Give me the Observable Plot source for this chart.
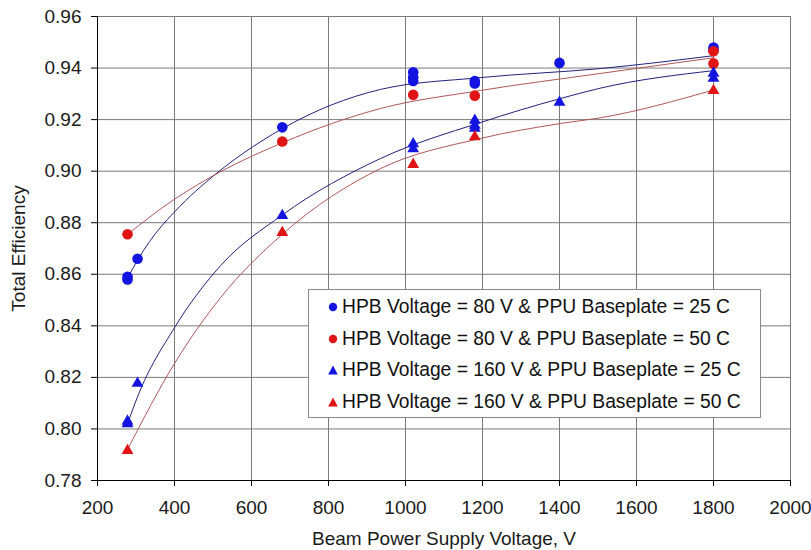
<!DOCTYPE html>
<html>
<head>
<meta charset="utf-8">
<script src="https://cdn.jsdelivr.net/npm/d3@7"></script>
<script src="https://cdn.jsdelivr.net/npm/@observablehq/plot@0.6"></script>
<style>
  body { margin: 0; background: white; }
  #wrap { position: relative; width: 811px; height: 550px; font-family: "Liberation Sans", Arial, sans-serif; }
  #legend { position: absolute; left: 308px; top: 289px; width: 451px; height: 127px; border: 1px solid #8a8a8a; background: white; box-sizing: content-box; }
  .item { position: absolute; left: 0; height: 32px; display: flex; align-items: center; font-size: 19.3px; color: #111; white-space: nowrap; }
  .item svg { margin-left: 19px; margin-right: 4px; }
</style>
</head>
<body>
<div id="wrap"></div>
<script>
// ---- data ----
const xTicks = [200, 400, 600, 800, 1000, 1200, 1400, 1600, 1800, 2000];
const yTicks = [0.78, 0.80, 0.82, 0.84, 0.86, 0.88, 0.90, 0.92, 0.94, 0.96];

const seriesNames = [
  "HPB Voltage = 80 V & PPU Baseplate = 25 C",
  "HPB Voltage = 80 V & PPU Baseplate = 50 C",
  "HPB Voltage = 160 V & PPU Baseplate = 25 C",
  "HPB Voltage = 160 V & PPU Baseplate = 50 C"
];
const seriesColors = ["#1414e0", "#e01414", "#1414e0", "#e01414"];
const trendColors = ["#22227a", "#b05858", "#22227a", "#b05858"];
const seriesSymbols = ["circle", "circle", "triangle", "triangle"];

// measured points: [beam voltage, efficiency]
const hpb80_25C = [[278, 0.858], [278, 0.859], [304, 0.866], [680, 0.917], [1020, 0.9384], [1020, 0.9364], [1020, 0.935], [1180, 0.935], [1180, 0.934], [1400, 0.942], [1800, 0.948], [1800, 0.947]];
const hpb80_50C = [[278, 0.8755], [680, 0.9115], [1020, 0.9296], [1180, 0.9293], [1800, 0.9465], [1800, 0.9418]];
const hpb160_25C = [[278, 0.802], [278, 0.803], [304, 0.8177], [680, 0.8828], [1020, 0.9106], [1020, 0.9087], [1180, 0.9197], [1180, 0.9178], [1180, 0.9166], [1400, 0.9267], [1800, 0.938], [1800, 0.936]];
const hpb160_50C = [[278, 0.7916], [680, 0.8762], [1020, 0.9026], [1180, 0.9133], [1800, 0.9313]];

// trend curves: [beam voltage, efficiency]
const trend80_25C = [[278, 0.8585], [304, 0.8655], [429, 0.8886], [480, 0.8955], [680, 0.9165], [935, 0.9317], [1195, 0.9363], [1506, 0.9398], [1800, 0.9448]];
const trend80_50C = [[278, 0.8755], [395, 0.8886], [480, 0.8965], [680, 0.911], [935, 0.9243], [1195, 0.9313], [1506, 0.9379], [1800, 0.944]];
const trend160_25C = [[278, 0.802], [304, 0.8125], [400, 0.8393], [520, 0.8634], [680, 0.883], [935, 0.9049], [1195, 0.9189], [1403, 0.9282], [1506, 0.9322], [1800, 0.939]];
const trend160_50C = [[278, 0.792], [400, 0.8254], [520, 0.851], [680, 0.8755], [935, 0.901], [1195, 0.9127], [1403, 0.9185], [1506, 0.9207], [1800, 0.9315]];

const pointSets = [hpb80_25C, hpb80_50C, hpb160_25C, hpb160_50C];
const trendSets = [trend80_25C, trend80_50C, trend160_25C, trend160_50C];

const points = pointSets.flatMap((arr, i) => arr.map(([x, y]) => ({x, y, s: i})));
const trends = trendSets.flatMap((arr, i) => arr.map(([x, y]) => ({x, y, s: i})));

const chart = Plot.plot({
  width: 811,
  height: 550,
  marginLeft: 97,
  marginRight: 21,
  marginTop: 16,
  marginBottom: 70,
  style: { fontFamily: "'Liberation Sans', Arial, sans-serif", fontSize: "19px", color: "#1a1a1a", background: "white", overflow: "visible" },
  x: { domain: [200, 2000] },
  y: { domain: [0.78, 0.96] },
  marks: [
    Plot.ruleX(xTicks, { stroke: "#7a7a7a", strokeWidth: 1 }),
    Plot.ruleY(yTicks, { stroke: "#7a7a7a", strokeWidth: 1 }),
    Plot.axisX({ ticks: xTicks, tickFormat: d => String(d), tickSize: 6, tickPadding: 14, stroke: "#000",
      label: "Beam Power Supply Voltage, V", labelAnchor: "center", labelArrow: "none", labelOffset: 64, fontSize: 19 }),
    Plot.axisY({ ticks: yTicks, tickFormat: d3.format(".2f"), tickSize: 6, tickPadding: 10, stroke: "#000",
      label: "Total Efficiency", labelAnchor: "center", labelArrow: "none", labelOffset: 86, fontSize: 19 }),
    Plot.ruleX([200], { stroke: "#000" }),
    Plot.ruleY([0.78], { stroke: "#000" }),
    Plot.line(trends, { x: "x", y: "y", z: "s", stroke: d => trendColors[d.s], curve: "monotone-x", strokeWidth: 1 }),
    Plot.dot(points.filter(d => seriesSymbols[d.s] === "circle"), { x: "x", y: "y", r: 5.3, symbol: "circle", fill: d => seriesColors[d.s], stroke: "none" }),
    Plot.dot(points.filter(d => seriesSymbols[d.s] === "triangle"), { x: "x", y: "y", r: 4.4, symbol: "triangle", fill: d => seriesColors[d.s], stroke: "none" })
  ]
});

const wrap = document.getElementById("wrap");
wrap.appendChild(chart);

// legend
const legend = document.createElement("div");
legend.id = "legend";
seriesNames.forEach((name, i) => {
  const item = document.createElement("div");
  item.className = "item";
  item.style.top = (1 + i * 31.7) + "px";
  const shape = seriesSymbols[i] === "circle"
    ? `<circle cx="5" cy="5" r="4.2" fill="${seriesColors[i]}"/>`
    : `<path d="M5,0.5 L9.8,9.5 L0.2,9.5 Z" fill="${seriesColors[i]}"/>`;
  item.innerHTML = `<svg width="10" height="10">${shape}</svg><span>${name}</span>`;
  legend.appendChild(item);
});
wrap.appendChild(legend);
</script>
</body>
</html>
